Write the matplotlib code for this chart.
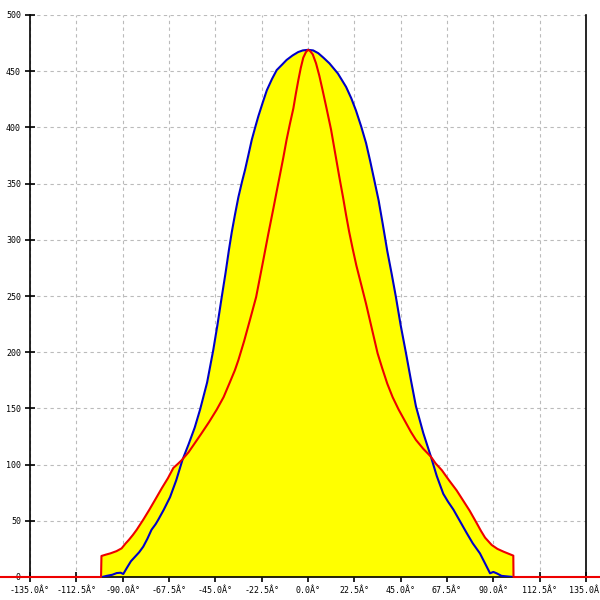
import matplotlib
matplotlib.use("Agg")
import matplotlib.pyplot as plt

# Intensidade luminosa - dois planos
angulos_azul = [-100, -97.8, -95, -92.9, -91, -89.7, -88, -86, -84, -82, -80, -78,
                -76, -74, -72.7, -70, -67, -64, -61, -58, -55, -52.4, -49, -46,
                -44, -41.9, -40, -38.4, -37, -35.5, -33.8, -32, -30.6, -29, -27.3,
                -25.5, -24.1, -22, -20, -17.5, -15.2, -12.5, -10.4, -7.5, -4.8,
                -2.5, 0, 2.5, 5, 7.5, 10.4, 14.5, 18.5, 21, 23.3, 25.8, 28.2,
                30.2, 32.2, 34.3, 36.3, 38.5, 40.6, 42.7, 45, 47.6, 50, 52.4, 56,
                59.7, 62.5, 65.7, 68, 70.6, 74, 77.1, 80, 83.5, 86, 88.4, 90, 91.6,
                94, 99.7]
valores_azul = [0, 1, 2, 3.5, 3.8, 2.7, 8, 14, 18, 22, 27, 34,
                42, 47, 51, 60, 71, 86, 104, 118, 133, 149, 173, 202,
                224, 249, 271, 291, 307, 322, 338, 352, 362, 375, 389,
                401, 410, 422, 433, 443, 451, 456, 460, 464, 467,
                468.5, 469, 468.5, 466, 462, 457, 448, 436, 426, 415, 401, 386,
                370, 353, 335, 314, 290, 270, 249, 224, 199, 175, 152, 128,
                107, 90, 74, 67, 60, 49, 39, 30, 21, 12, 3.3, 4.5, 3.3,
                1, 0]

angulos_verm = [-180, -100.5, -100.3, -98, -96, -93, -90.5, -88.5, -87, -85, -83.2,
                -80, -77, -74.3, -71, -68, -65.4, -63, -61.3, -58, -55, -52, -48,
                -44.3, -41, -38, -35.5, -33.8, -31, -28, -25.2, -23.5, -21.7,
                -19.3, -16.8, -15, -13.6, -12, -10.4, -8.8, -7.1, -5.9, -4.7,
                -3.5, -2.3, -1, 0, 1, 2.3, 3.9, 5.5, 7.1, 9, 11.2, 13.2, 15.2,
                17, 18.5, 20, 21.7, 23.5, 26, 28.2, 31, 33.8, 36, 38.5, 41.1, 44,
                47, 50, 52.4, 56, 59.7, 62, 65, 68.5, 72.2, 75, 78.5, 81.9, 84,
                86, 89.2, 92, 95, 98.9, 99.7, 99.8, 180]
valores_verm = [0, 0, 18.7, 20, 21, 23, 25.5, 30, 33, 37.5, 42,
                51, 60, 68.5, 79, 88, 97, 101, 104, 111, 119, 127, 138,
                149, 160, 173, 184, 193, 210, 230, 249, 265, 282,
                305, 328, 345, 358, 373, 389, 403, 417, 430, 442,
                453, 462, 467, 469, 468, 465, 457, 446, 433, 417, 398, 377, 356,
                338, 322, 307, 292, 277, 259, 243, 221, 199, 186, 172, 160, 149,
                139, 129, 122, 114, 107, 101, 95, 86, 77, 69, 59, 48, 41,
                35, 28.5, 25, 22.5, 19.6, 19, 0, 0]

xticks = [-135, -112.5, -90, -67.5, -45, -22.5, 0, 22.5, 45, 67.5, 90, 112.5, 135]
xlabels = ["%.1fÂ°" % t for t in xticks]
yticks = list(range(0, 501, 50))

fig = plt.figure(figsize=(6, 6), dpi=100)
ax = fig.add_axes([30 / 600, 23 / 600, 556 / 600, 562 / 600])

ax.fill_between(angulos_azul, valores_azul, 0, color="#ffff00", lw=0, zorder=2)
ax.fill_between(angulos_verm, valores_verm, 0, color="#ffff00", lw=0, zorder=2)
ax.plot(angulos_azul, valores_azul, color="#0000c8", lw=1.5, zorder=4)
ax.plot(angulos_verm, valores_verm, color="#ee0000", lw=1.5, zorder=5, clip_on=False)

ax.set_xlim(-135, 135)
ax.set_ylim(0, 500)
ax.set_xticks(xticks)
ax.set_xticklabels(xlabels)
ax.set_yticks(yticks)

ax.grid(True, color="#bbbbbb", linestyle=(0, (3, 3)), lw=0.8, zorder=1)
ax.set_axisbelow(True)
ax.spines["top"].set_visible(False)
for s in ["left", "right", "bottom"]:
    ax.spines[s].set_color("black")
    ax.spines[s].set_linewidth(1.2)

ax.tick_params(axis="both", direction="inout", length=7, width=1.2,
               labelsize=6, pad=3)
for lab in ax.get_xticklabels() + ax.get_yticklabels():
    lab.set_family("DejaVu Sans Mono")

fig.savefig("out.png", dpi=100)
